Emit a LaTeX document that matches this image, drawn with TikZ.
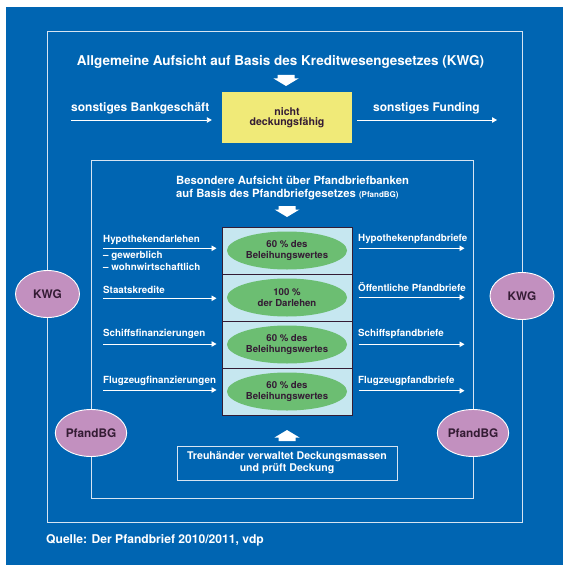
\documentclass[tikz,border=0pt]{standalone}
\usepackage{fontspec}
\setmainfont{TeX Gyre Heros}
\usetikzlibrary{positioning,shapes.geometric,arrows.meta}

\definecolor{bgblue}{RGB}{0,101,178}
\definecolor{framecol}{RGB}{214,228,242}
\definecolor{gelb}{RGB}{240,234,120}
\definecolor{hellblau}{RGB}{198,231,240}
\definecolor{gruen}{RGB}{108,190,114}
\definecolor{lila}{RGB}{194,144,191}
\definecolor{dunkel}{RGB}{52,28,52}

\tikzset{
  lbl/.style={anchor=base west, inner sep=0pt, text=white, font=\bfseries\fontsize{9.8}{11}\selectfont},
  pfeil/.style={draw=white, line width=0.9pt, -{Triangle[width=5.5pt,length=5pt]}},
  zeile/.style={draw=dunkel, line width=1pt, fill=hellblau, minimum width=130pt, minimum height=47pt, inner sep=0pt},
  deckung/.style={ellipse, fill=gruen, minimum width=120pt, minimum height=38pt, inner sep=0pt, align=center, text=dunkel, font=\bfseries\fontsize{9.6}{10.2}\selectfont},
  gesetz/.style={ellipse, draw=white, line width=0.9pt, fill=lila, minimum width=64pt, minimum height=47pt, inner sep=0pt, text=dunkel, font=\bfseries\fontsize{11.8}{13}\selectfont},
  rahmen/.style={draw=framecol, line width=0.9pt},
  blockpfeil/.pic={\fill[white] (-8.5,0) -- (8.5,0) -- (8.5,3.5) -- (12.5,3.5) -- (0,11) -- (-12.5,3.5) -- (-8.5,3.5) -- cycle;}
}

\begin{document}
\begin{tikzpicture}[x=1pt, y=-1pt]
  \fill[white] (0,0) rectangle (563,567);
  \fill[bgblue] (6,7) rectangle (563,565);
  \useasboundingbox (0,0) rectangle (563,567);

  % Rahmen KWG / PfandBG
  \draw[rahmen] (47.5,31.5) rectangle (522,522);
  \draw[rahmen] (91,160) rectangle (473,498);

  \node[anchor=base, inner sep=0pt, text=white, font=\bfseries\fontsize{13.5}{15}\selectfont] (titel) at (280.5,65.5)
    {Allgemeine Aufsicht auf Basis des Kreditwesengesetzes (KWG)};
  \pic at (286,75) {blockpfeil};

  \node[fill=gelb, minimum width=130pt, minimum height=51pt, align=center, text=dunkel,
    font=\bfseries\fontsize{10.6}{10}\selectfont] (nd) at (287,117.5) {nicht\\deckungsfähig};
  \node[lbl, font=\bfseries\fontsize{12}{14}\selectfont] (bank) at (71,112) {sonstiges Bankgeschäft};
  \node[lbl, font=\bfseries\fontsize{12}{14}\selectfont] (fund) at (373,112) {sonstiges Funding};
  \coordinate (bankA) at (71,120);
  \coordinate (fundE) at (497,120);
  \draw[pfeil, shorten >=10pt] (bankA) -- (bankA -| nd.west);
  \draw[pfeil, shorten <=5pt] (fundE -| nd.east) -- (fundE);

  \node[lbl, font=\bfseries\fontsize{11.3}{13}\selectfont] (besTitel) at (176,184.5) {Besondere Aufsicht über Pfandbriefbanken};
  \node[lbl, font=\bfseries\fontsize{11.3}{13}\selectfont] (besTitelB) at (176,197)
    {auf Basis des Pfandbriefgesetzes {\fontsize{8}{9}\selectfont(PfandBG)}};
  \pic at (287,206) {blockpfeil};

  % Deckungsstock
  \node[zeile] (r1) at (287,250.5) {};
  \node[zeile] (r2) at (287,297.5) {};
  \node[zeile] (r3) at (287,344.5) {};
  \node[zeile] (r4) at (287,391.5) {};
  \node[deckung] (e1) at (r1) {60 \% des\\Beleihungswertes};
  \node[deckung] (e2) at (r2) {100 \%\\der Darlehen};
  \node[deckung] (e3) at (r3) {60 \% des\\Beleihungswertes};
  \node[deckung] (e4) at (r4) {60 \% des\\Beleihungswertes};

  \node[lbl] (hyp) at (103,242.3) {Hypothekendarlehen};
  \node[lbl] (hypA) at (103,258.3) {– gewerblich};
  \node[lbl] (hypB) at (103,270.7) {– wohnwirtschaftlich};
  \node[lbl] (staat) at (103,293.7) {Staatskredite};
  \node[lbl] (schiff) at (103,336.7) {Schiffsfinanzierungen};
  \node[lbl] (flug) at (103,383) {Flugzeugfinanzierungen};
  \coordinate (l1) at (103,248.3);
  \coordinate (l2) at (103,298.3);
  \coordinate (l3) at (103,344);
  \coordinate (l4) at (103,390);
  \draw[pfeil, shorten >=5pt] (l1) -- (l1 -| r1.west);
  \draw[pfeil, shorten >=5pt] (l2) -- (l2 -| r2.west);
  \draw[pfeil, shorten >=5pt] (l3) -- (l3 -| r3.west);
  \draw[pfeil, shorten >=5pt] (l4) -- (l4 -| r4.west);

  \node[lbl] (hypPf) at (358,241.7) {Hypothekenpfandbriefe};
  \node[lbl] (oeffPf) at (358,291.7) {Öffentliche Pfandbriefe};
  \node[lbl] (schiffPf) at (358,336.7) {Schiffspfandbriefe};
  \node[lbl] (flugPf) at (358,383.3) {Flugzeugpfandbriefe};
  \coordinate (p1) at (464.5,248.3);
  \coordinate (p2) at (464.5,297.3);
  \coordinate (p3) at (464.5,344.3);
  \coordinate (p4) at (464.5,390.7);
  \draw[pfeil, shorten <=6pt] (p1 -| r1.east) -- (p1);
  \draw[pfeil, shorten <=6pt] (p2 -| r2.east) -- (p2);
  \draw[pfeil, shorten <=6pt] (p3 -| r3.east) -- (p3);
  \draw[pfeil, shorten <=6pt] (p4 -| r4.east) -- (p4);

  % Treuhaender
  \node[rahmen, minimum width=220pt, minimum height=34pt, align=center, text=white,
    font=\bfseries\fontsize{10.6}{12.3}\selectfont] (treu) at (287,463)
    {Treuhänder verwaltet Deckungsmassen\\und prüft Deckung};
  \pic[yscale=-1] at (287,441) {blockpfeil};

  \node[gesetz] (kwgL) at (47.5,294) {KWG};
  \node[gesetz] (kwgR) at (522,296) {KWG};
  \node[gesetz] (pbgL) at (91,433) {PfandBG};
  \node[gesetz] (pbgR) at (473,433) {PfandBG};

  \node[lbl, font=\bfseries\fontsize{12.1}{14}\selectfont] (quelle) at (46,543) {Quelle: Der Pfandbrief 2010/2011, vdp};
\end{tikzpicture}
\end{document}
